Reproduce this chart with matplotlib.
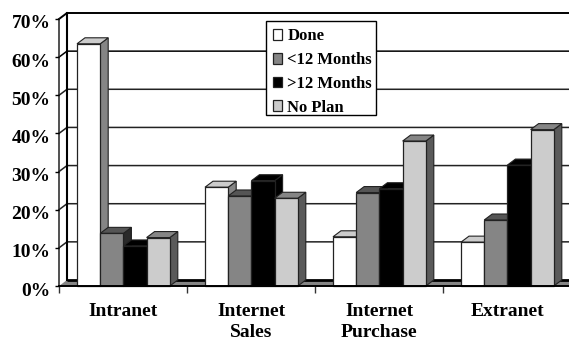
import matplotlib
matplotlib.use("Agg")
import matplotlib.pyplot as plt
from matplotlib.patches import Polygon, Patch, Rectangle
from matplotlib.transforms import ScaledTranslation

categories = ["Intranet", "Internet\nSales", "Internet\nPurchase", "Extranet"]
series_names = ["Done", "<12 Months", ">12 Months", "No Plan"]
done = [63.5, 25.9, 12.9, 11.5]
under_12 = [13.8, 23.6, 24.5, 17.3]
over_12 = [10.5, 27.6, 25.5, 31.7]
no_plan = [12.7, 23.0, 38.0, 41.0]
y_ticks = [0, 10, 20, 30, 40, 50, 60, 70]

front_colors = ["#ffffff", "#858585", "#000000", "#cccccc"]
top_colors = ["#cccccc", "#555555", "#000000", "#858585"]
side_colors = ["#858585", "#2a2a2a", "#000000", "#5a5a5a"]

W, H = 569, 338
LEFT, RIGHT, BOTTOM, TOP = 59, 571, 286, 19
DEPTH_X, DEPTH_Y = 8, 6

plt.rcParams["font.family"] = ["Liberation Serif", "DejaVu Serif"]
plt.rcParams["font.weight"] = "bold"

fig = plt.figure(figsize=(W / 100, H / 100), dpi=100)
ax = fig.add_axes([LEFT / W, 1 - BOTTOM / H, (RIGHT - LEFT) / W, (BOTTOM - TOP) / H])
ax.set_xlim(0, 4)
ax.set_ylim(0, 70)
ax.patch.set_visible(False)
for spine in ax.spines.values():
    spine.set_visible(False)

# Depth of the pseudo-3D box, in data units
dx = DEPTH_X * 4 / (RIGHT - LEFT)
dy = DEPTH_Y * 70 / (BOTTOM - TOP)

# Floor of the box
ax.add_patch(Polygon([(0, 0), (dx, dy), (4 + dx, dy), (4, 0)], closed=True,
                     fc="#858585", ec="none", clip_on=False, zorder=1))
ax.plot([dx, 4], [dy, dy], color="black", lw=2.0, clip_on=False, zorder=1.5,
        solid_capstyle="butt")

# Back wall gridlines and the diagonals that join them to the front axis
for t in y_ticks:
    if t > 0:
        ax.plot([0, dx, 4], [t, t + dy, t + dy], color="black" if t in (70, 60) else "#222222",
                lw=1.1 if t < 70 else 1.4, clip_on=False, zorder=1.2,
                solid_joinstyle="miter")
ax.plot([dx, dx], [dy, 70 + dy], color="black", lw=1.5, clip_on=False, zorder=1.3)
ax.plot([0, 0], [0, 70], color="#222222", lw=1.1, clip_on=False, zorder=1.3)
ax.plot([0, 4], [0, 0], color="black", lw=1.4, clip_on=False, zorder=8)

# Bars, painted left to right so each one covers the side of its neighbour
bar_w = 23.2 * 4 / (RIGHT - LEFT)
start = 18 * 4 / (RIGHT - LEFT)
all_series = [done, under_12, over_12, no_plan]
z = 2.0
for c in range(len(categories)):
    for s, values in enumerate(all_series):
        v = values[c]
        x0 = c + start + s * bar_w
        x1 = x0 + bar_w
        ec = "#222222"
        ax.add_patch(Polygon([(x1, 0), (x1 + dx, dy), (x1 + dx, v + dy), (x1, v)], closed=True,
                             fc=side_colors[s], ec=ec, lw=0.8, clip_on=False, zorder=z))
        ax.add_patch(Polygon([(x0, v), (x0 + dx, v + dy), (x1 + dx, v + dy), (x1, v)], closed=True,
                             fc=top_colors[s], ec=ec, lw=0.8, clip_on=False, zorder=z))
        ax.bar(x0, v, width=bar_w, align="edge", color=front_colors[s], edgecolor=ec,
               linewidth=0.9, zorder=z + 0.1, clip_on=False)
        z += 0.2

ax.set_xticks([0, 1, 2, 3])
ax.set_xticklabels([])
ax.tick_params(axis="x", length=5, width=1.0, color="#333333")
ax.set_xticks([0.5, 1.5, 2.5, 3.5], minor=True)
ax.set_xticklabels(categories, minor=True, fontsize=14, fontweight="bold", linespacing=1.37)
ax.tick_params(axis="x", which="minor", length=0, pad=12)

ax.set_yticks(y_ticks)
ax.set_yticklabels([f"{t}%" for t in y_ticks], fontsize=14, fontweight="bold")
ax.tick_params(axis="y", length=3, width=1.0, color="black", pad=3)
nudge_down = ScaledTranslation(0, -3 / 100, fig.dpi_scale_trans)
for label in ax.get_yticklabels():
    label.set_transform(label.get_transform() + nudge_down)

# Legend box, with the entries laid over it
ax.add_patch(Rectangle((266 / W, 1 - 115 / H), 110 / W, 94 / H, transform=fig.transFigure,
                       fc="white", ec="black", lw=1.0, clip_on=False, zorder=49))
handles = [Patch(fc=front_colors[i], ec="#222222", lw=0.9, label=series_names[i]) for i in range(4)]
legend = ax.legend(handles=handles, loc="upper left",
                   bbox_to_anchor=((266 - LEFT) / (RIGHT - LEFT), (BOTTOM - 21.5) / (BOTTOM - TOP)),
                   borderaxespad=0, fontsize=12, frameon=False,
                   handlelength=0.55, handleheight=0.6, handletextpad=0.3, labelspacing=0.46,
                   borderpad=0.42)
legend.set_zorder(50)

fig.savefig("out.png", dpi=100)
